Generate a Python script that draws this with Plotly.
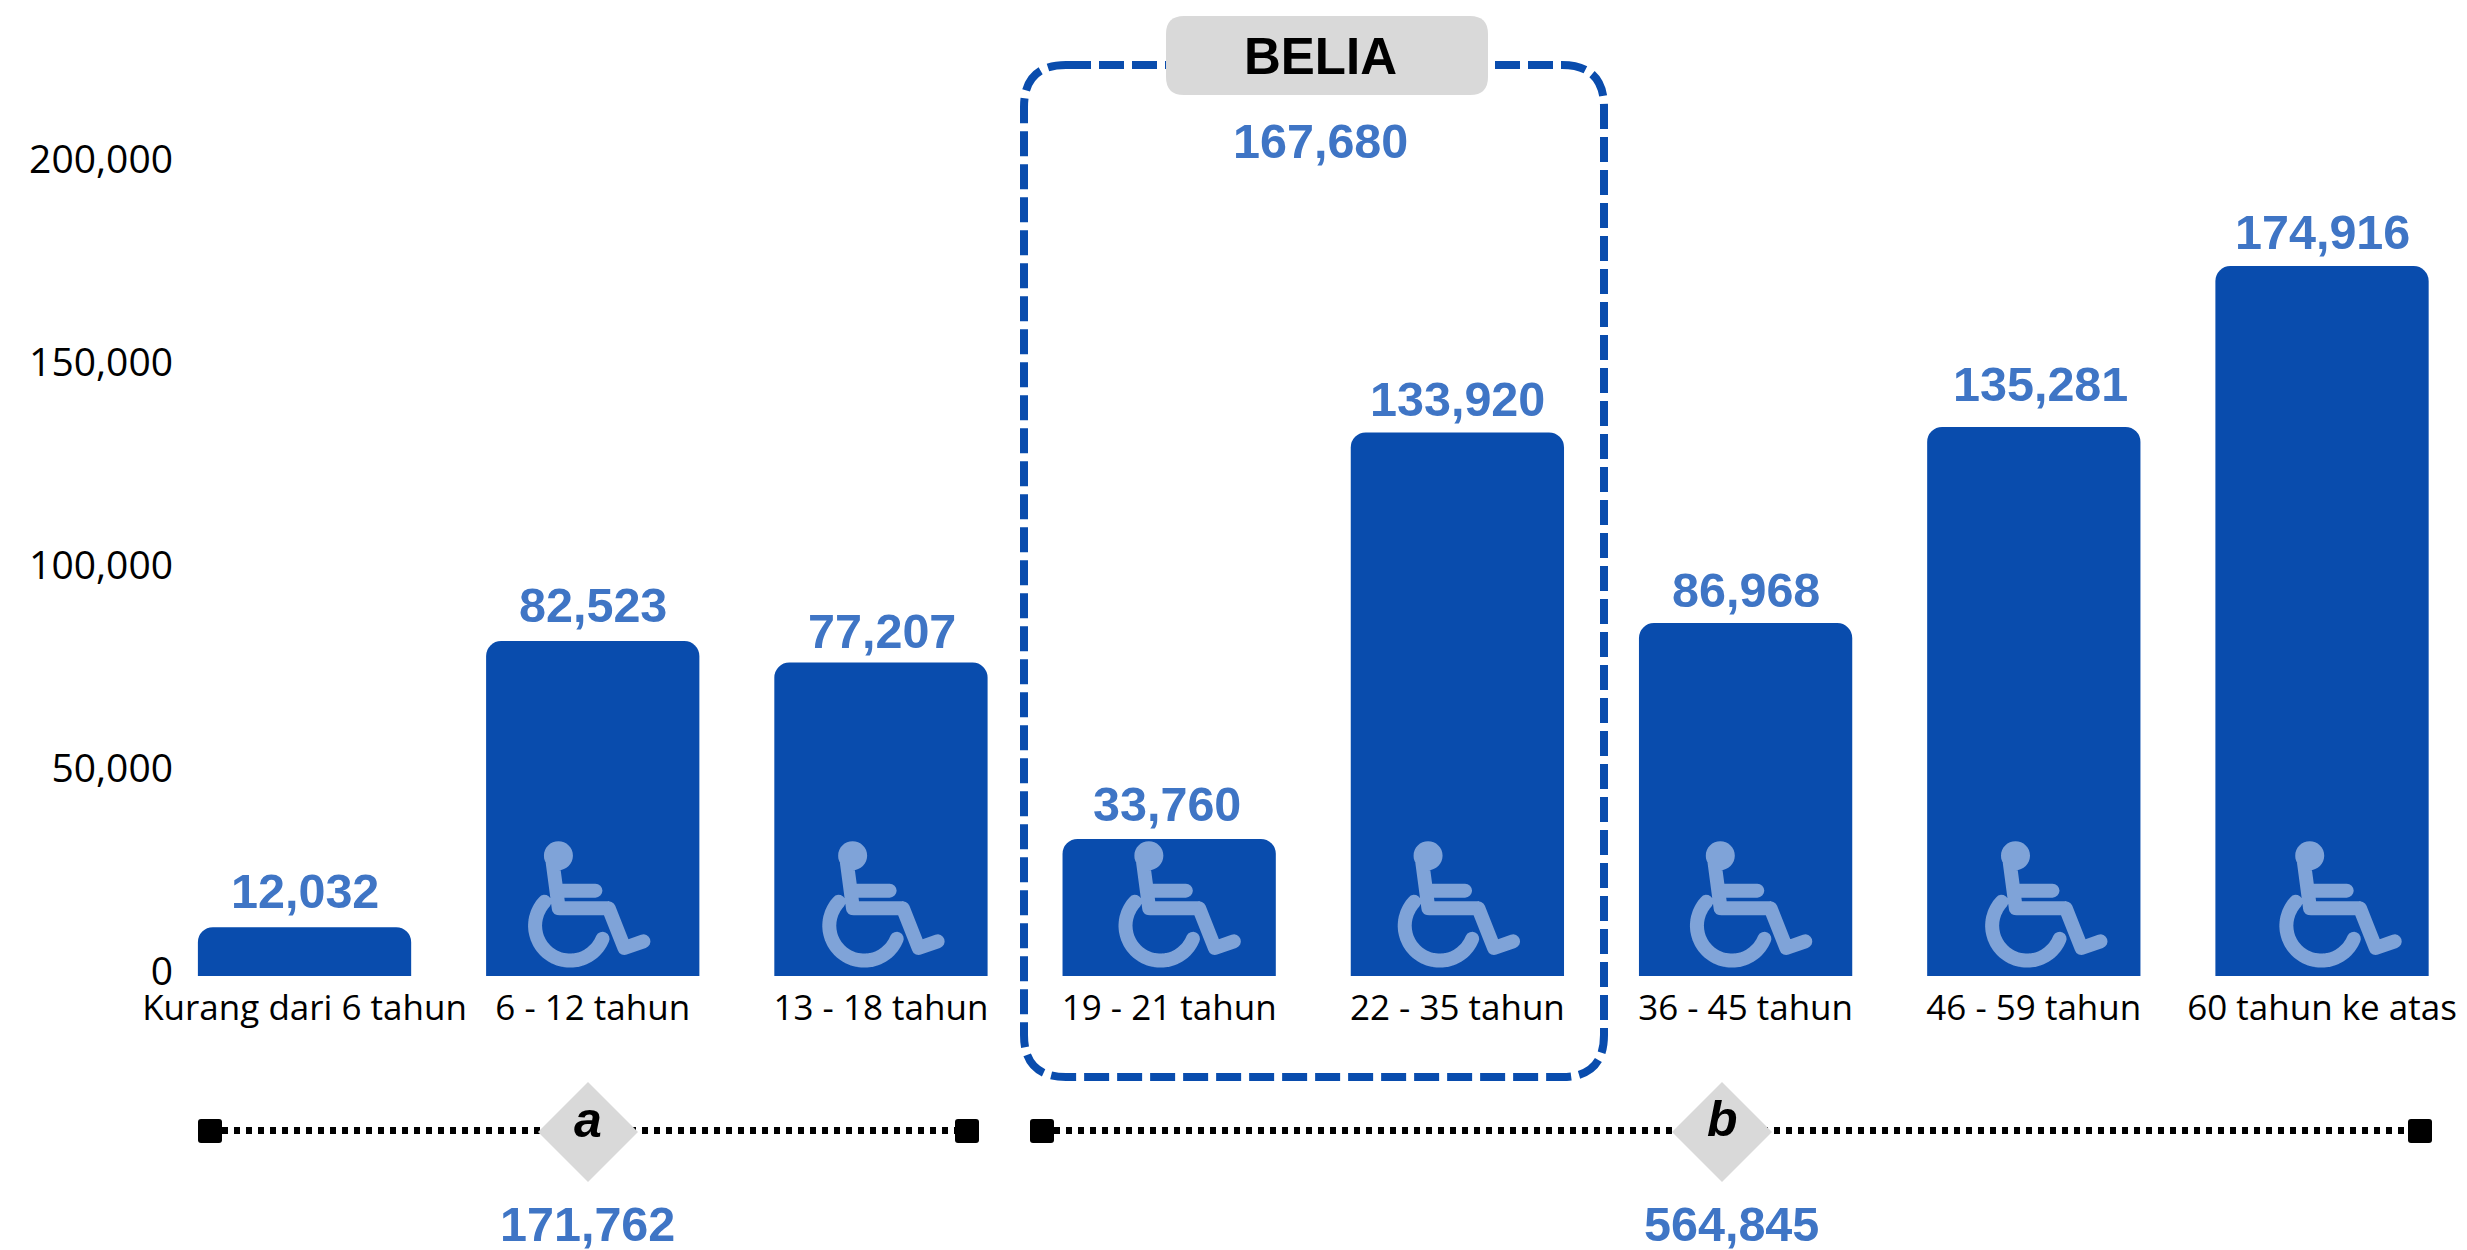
import math
import plotly.graph_objects as go

W, H = 2467, 1250
categories = ["Kurang dari 6 tahun", "6 - 12 tahun", "13 - 18 tahun", "19 - 21 tahun",
              "22 - 35 tahun", "36 - 45 tahun", "46 - 59 tahun", "60 tahun ke atas"]
values = [12032, 82523, 77207, 33760, 133920, 86968, 135281, 174916]
label_xshift = [0, 0, 1, -2, 0, 0, 7, 0]
label_yshift = [36, 36, 32, 35, 33, 33, 43, 34]
icon_bars = [1, 2, 3, 4, 5, 6, 7]
icon_xshift = [-14, -8, 0, -9, -5, 2, 8]
y_ticks = [0, 50000, 100000, 150000, 200000]
group_labels = ["a", "b"]
group_totals = ["171,762", "564,845"]
belia_total = "167,680"

BLUE = "#094CAD"
LABEL = "#3F75C5"
ICON = "#7FA3D8"
GREY = "#D9D9D9"
TICK_FONT = "Open Sans"
NUM_FONT = "Liberation Sans"


def px(x):
    return x / W


def py(y):
    return 1 - y / H


def capsule(a, b, w):
    ang = math.atan2(b[1] - a[1], b[0] - a[0])
    pts = []
    for k in range(9):
        t = ang + math.pi / 2 + math.pi * k / 8
        pts.append((a[0] + w / 2 * math.cos(t), a[1] + w / 2 * math.sin(t)))
    for k in range(9):
        t = ang - math.pi / 2 + math.pi * k / 8
        pts.append((b[0] + w / 2 * math.cos(t), b[1] + w / 2 * math.sin(t)))
    return pts


def to_path(pts):
    return "M" + " L".join(f"{x:.1f},{y:.1f}" for x, y in pts) + " Z"


def z(X, Y):
    return ((X - 388) / 3, (591 - Y) / 3)


def icon_path():
    parts = []
    w = 14
    strokes = [
        (z(307, 230), z(328, 388)),
        (z(328, 335), z(438, 335)),
        (z(328, 388), z(478, 388)),
        (z(478, 388), z(525, 507)),
        (z(525, 507), z(582, 487)),
    ]
    for a, b in strokes:
        parts.append(to_path(capsule(a, b, w)))
    c = z(327, 230)
    parts.append(to_path([(c[0] + 14.5 * math.cos(2 * math.pi * k / 32),
                           c[1] + 14.5 * math.sin(2 * math.pi * k / 32)) for k in range(32)]))
    c = z(362, 440)
    r = 35
    n = 28
    a0, a1 = math.radians(137), math.radians(338)
    prev = None
    for k in range(n + 1):
        t = a0 + (a1 - a0) * k / n
        p = (c[0] + r * math.cos(t), c[1] + r * math.sin(t))
        if prev:
            parts.append(to_path(capsule(prev, p, w)))
        prev = p
    return " ".join(parts)


def round_rect(x0, y0, x1, y1, r):
    return (f"M{px(x0 + r)},{py(y0)} L{px(x1 - r)},{py(y0)} "
            f"Q{px(x1)},{py(y0)} {px(x1)},{py(y0 + r)} L{px(x1)},{py(y1 - r)} "
            f"Q{px(x1)},{py(y1)} {px(x1 - r)},{py(y1)} L{px(x0 + r)},{py(y1)} "
            f"Q{px(x0)},{py(y1)} {px(x0)},{py(y1 - r)} L{px(x0)},{py(y0 + r)} "
            f"Q{px(x0)},{py(y0)} {px(x0 + r)},{py(y0)} Z")


fig = go.Figure(go.Bar(x=list(range(len(values))), y=values, width=0.74,
                       marker=dict(color=BLUE, cornerradius=15, line_width=0),
                       hoverinfo="skip"))

shapes = []
ann = []

for i, v in enumerate(values):
    ann.append(dict(x=i, y=v, xref="x", yref="y", text=f"{v:,}", showarrow=False,
                    yanchor="middle", xanchor="center", xshift=label_xshift[i],
                    yshift=label_yshift[i],
                    font=dict(family=NUM_FONT, size=48.5, color=LABEL, weight="bold")))

path = icon_path()
for i, dx in zip(icon_bars, icon_xshift):
    shapes.append(dict(type="path", xref="x", yref="y", xsizemode="pixel", ysizemode="pixel",
                       xanchor=i + dx / 288.2, yanchor=0, path=path, fillcolor=ICON,
                       fillrule="nonzero", line_width=0))

shapes.append(dict(type="path", xref="paper", yref="paper",
                   path=round_rect(1024, 65, 1604, 1077, 42),
                   line=dict(color=BLUE, width=8, dash="25px,8px")))
shapes.append(dict(type="path", xref="paper", yref="paper",
                   path=round_rect(1166, 16, 1488, 95, 18), fillcolor=GREY, line_width=0))


def center_text(x, y, text, **font):
    ann.append(dict(x=px(x), y=py(y), xref="paper", yref="paper", text=text, showarrow=False,
                    xanchor="center", yanchor="middle", font=dict(family=NUM_FONT, **font)))


center_text(1320, 57, "BELIA", size=51, color="black", weight="bold")
center_text(1320, 141, belia_total, size=48.5, color=LABEL, weight="bold")

for (x0, x1, cx, tx, lab, tot, ly) in [(210, 967, 588, 587, group_labels[0], group_totals[0], 1120),
                                       (1042, 2420, 1722, 1731, group_labels[1], group_totals[1], 1119)]:
    shapes.append(dict(type="line", xref="paper", yref="paper", x0=px(x0), x1=px(x1),
                       y0=py(1130.5), y1=py(1130.5),
                       line=dict(color="black", width=7, dash="6px,6px")))
    for c in (x0, x1):
        shapes.append(dict(type="path", xref="paper", yref="paper",
                           path=round_rect(c - 12, 1119, c + 12, 1143, 3),
                           fillcolor="black", line_width=0))
    shapes.append(dict(type="path", xref="paper", yref="paper",
                       path=f"M{px(cx - 50)},{py(1132)} L{px(cx)},{py(1082)} "
                            f"L{px(cx + 50)},{py(1132)} L{px(cx)},{py(1182)} Z",
                       fillcolor=GREY, line_width=0))
    center_text(cx, ly, lab, size=50, color="black", weight="bold", style="italic")
    center_text(tx, 1224, tot, size=48.5, color=LABEL, weight="bold")

fig.update_layout(
    width=W, height=H, margin=dict(l=0, r=0, t=0, b=0), autosize=False,
    paper_bgcolor="white", plot_bgcolor="white", showlegend=False,
    shapes=shapes, annotations=ann,
    xaxis=dict(domain=[178 / W, 1], range=[-0.439, 7.503], tickmode="array",
               tickvals=list(range(len(categories))), ticktext=categories,
               showgrid=False, zeroline=False, showline=False, ticks="", ticklen=0,
               tickangle=0, automargin=False, ticklabelstandoff=8,
               tickfont=dict(family=TICK_FONT, size=35, color="black")),
    yaxis=dict(domain=[(H - 976) / H, 1], range=[0, 240453], tickmode="array",
               tickvals=y_ticks, tickformat=",", showgrid=False, zeroline=False,
               showline=False, ticks="", automargin=False, ticklabelshift=-5,
               ticklabelstandoff=4,
               tickfont=dict(family=TICK_FONT, size=39, color="black")),
)

fig.write_html("out.html", config=dict(displayModeBar=False),
               post_script="document.body.style.margin='0';document.body.style.overflow='hidden';")
